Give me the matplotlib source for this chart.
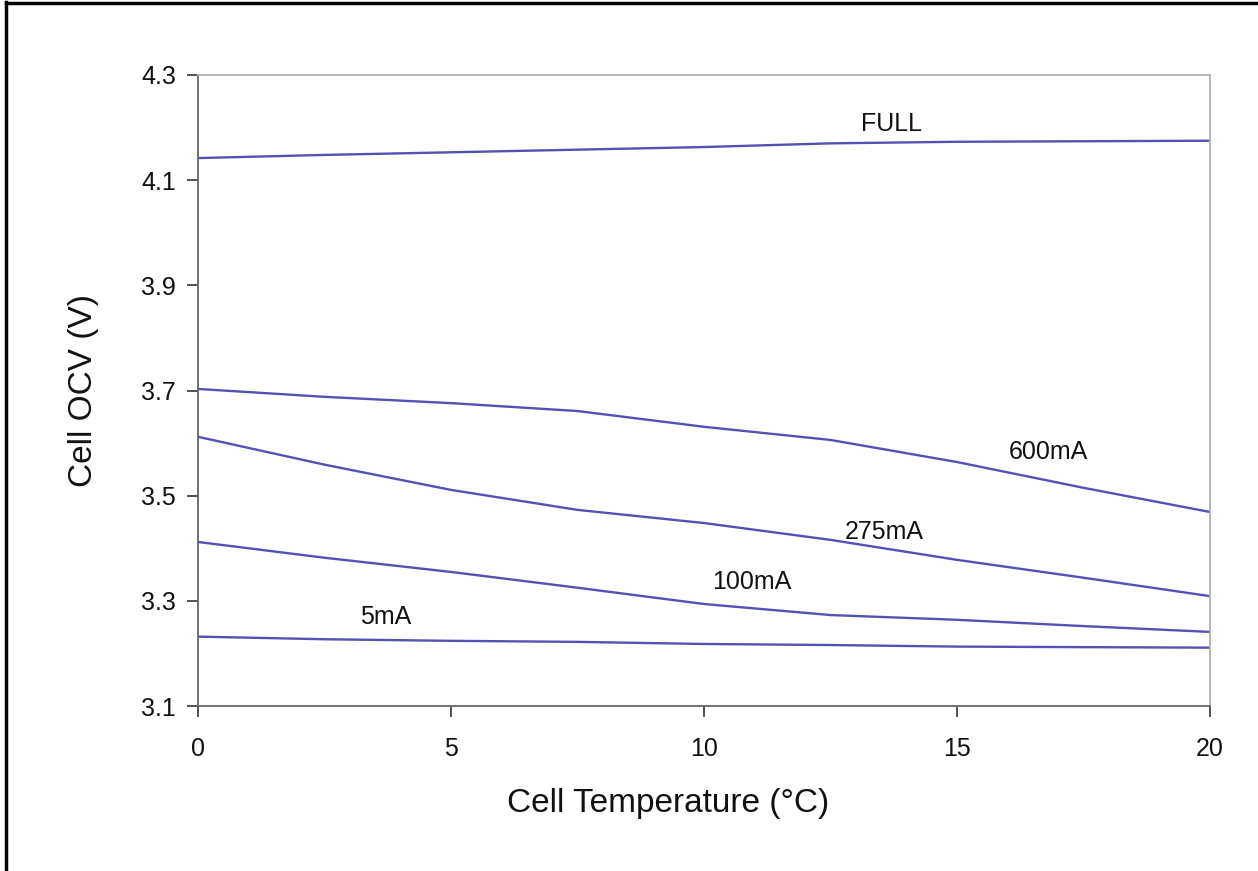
import numpy as np
import matplotlib
matplotlib.use("Agg")
import matplotlib.pyplot as plt
from matplotlib.lines import Line2D

plt.rcParams['font.family'] = ['Liberation Sans', 'DejaVu Sans']

# cell temperature (degC)
temp = [0, 2.5, 5, 7.5, 10, 12.5, 15, 17.5, 20]

# open circuit voltage per load current (V)
ocv_full = [4.142, 4.148, 4.153, 4.158, 4.163, 4.170, 4.173, 4.174, 4.175]
ocv_600 = [3.703, 3.688, 3.676, 3.661, 3.631, 3.606, 3.564, 3.515, 3.469]
ocv_275 = [3.612, 3.559, 3.511, 3.473, 3.448, 3.416, 3.378, 3.344, 3.309]
ocv_100 = [3.412, 3.382, 3.355, 3.325, 3.294, 3.273, 3.264, 3.252, 3.241]
ocv_5 = [3.232, 3.227, 3.224, 3.222, 3.218, 3.216, 3.213, 3.212, 3.211]

series = [ocv_full, ocv_600, ocv_275, ocv_100, ocv_5]
labels = ["FULL", "600mA", "275mA", "100mA", "5mA"]
label_pos = [(13.7, 4.207), (16.8, 3.583), (13.56, 3.431), (10.95, 3.336), (3.7, 3.27)]

line_col = '#5252b4'

fig = plt.figure(figsize=(12.58, 8.71), dpi=100)
ax = fig.add_axes([0.1574, 0.1894, 0.8044, 0.7245])

for s in series:
    ax.plot(temp, s, color=line_col, lw=1.7)

for txt, (x, y) in zip(labels, label_pos):
    ax.text(x, y, txt, fontsize=18, ha='center', va='center', color='#111111')

ax.set_xlim(0, 20)
ax.set_ylim(3.1, 4.3)
ax.set_xticks([0, 5, 10, 15, 20])
ax.set_yticks([3.1, 3.3, 3.5, 3.7, 3.9, 4.1, 4.3])
ax.set_yticklabels(["3.1", "3.3", "3.5", "3.7", "3.9", "4.1", "4.3"])
ax.tick_params(direction='out', length=8, width=1.3, color='#444444',
               labelsize=18, labelcolor='#111111', pad=8)
ax.tick_params(axis='x', pad=14)

ax.spines['top'].set_color('#b0b0b0')
ax.spines['right'].set_color('#b0b0b0')
ax.spines['left'].set_color('#666666')
ax.spines['bottom'].set_color('#666666')
for sp in ax.spines.values():
    sp.set_linewidth(1.3)

ax.set_xlabel("Cell Temperature (°C)", fontsize=24, labelpad=20, color='#111111')
ax.xaxis.set_label_coords(0.465, -0.13)
ax.set_ylabel("Cell OCV (V)", fontsize=24, labelpad=30, color='#111111')

# outer frame (left and top edges only)
fig.add_artist(Line2D([0.0045, 0.0045], [0, 0.998], transform=fig.transFigure,
                      color='black', lw=2.5))
fig.add_artist(Line2D([0.0045, 1], [0.9965, 0.9965], transform=fig.transFigure,
                      color='black', lw=2.5))

fig.savefig("out.png", dpi=100)
